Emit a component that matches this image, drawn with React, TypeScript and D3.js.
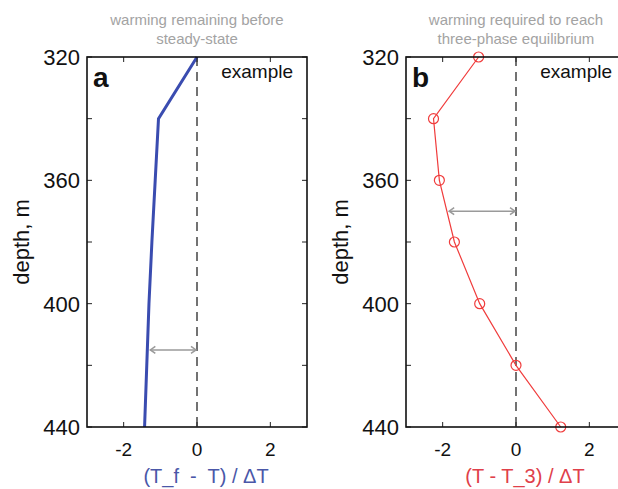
import React from "react";
import * as d3 from "d3";

const depths = [320, 340, 360, 380, 400, 420, 440];
const seriesA = [0, -1.05, -1.14, -1.23, -1.31, -1.37, -1.43];
const seriesB = [-1.02, -2.25, -2.09, -1.68, -0.99, 0, 1.22];
const xTicks = [-2, 0, 2];
const yTicks = [320, 340, 360, 380, 400, 420, 440];
const yLabels = [320, 360, 400, 440];
const titlesA = ["warming remaining before", "steady-state"];
const titlesB = ["warming required to reach", "three-phase equilibrium"];
const arrowA = { depth: 415, from: -1.3, to: 0 };
const arrowB = { depth: 370, from: -1.85, to: 0 };

const FONT = "'Liberation Sans', Arial, Helvetica, sans-serif";

type PanelProps = {
  left: number;
  letter: string;
  titles: string[];
  values: number[];
  color: string;
  markers: boolean;
  lineWidth: number;
  xLabel: string;
  xLabelColor: string;
  arrow: { depth: number; from: number; to: number };
};

function Panel(p: PanelProps) {
  const top = 57;
  const bottom = 427;
  const width = 220;
  const x = d3.scaleLinear().domain([-3, 3]).range([p.left, p.left + width]);
  const y = d3.scaleLinear().domain([320, 440]).range([top, bottom]);
  const pts: [number, number][] = depths.map((d, i) => [p.values[i], d]);
  const line = d3
    .line<[number, number]>()
    .x((d) => x(d[0]))
    .y((d) => y(d[1]));
  const tl = 5;
  const cx = p.left + width / 2;
  const ay = y(p.arrow.depth);
  const ax1 = x(p.arrow.from);
  const ax2 = x(p.arrow.to);
  const ah = 6;
  return (
    <g>
      {p.titles.map((t, i) => (
        <text
          key={i}
          x={cx}
          y={25 + i * 19}
          textAnchor="middle"
          fontFamily={FONT}
          fontSize={15}
          fill="#a3a3a3"
        >
          {t}
        </text>
      ))}
      <line
        x1={x(0)}
        x2={x(0)}
        y1={top}
        y2={bottom}
        stroke="#444"
        strokeWidth={1.5}
        strokeDasharray="9,6"
      />
      <g stroke="#9a9a9a" strokeWidth={1.5} fill="none">
        <line x1={ax1 + 1} x2={ax2 - 1} y1={ay} y2={ay} />
        <path d={`M${ax1 + ah},${ay - 3.5} L${ax1 + 1},${ay} L${ax1 + ah},${ay + 3.5}`} />
        <path d={`M${ax2 - ah},${ay - 3.5} L${ax2 - 1},${ay} L${ax2 - ah},${ay + 3.5}`} />
      </g>
      <path
        d={line(pts) || ""}
        fill="none"
        stroke={p.color}
        strokeWidth={p.lineWidth}
      />
      {p.markers &&
        pts.map((d, i) => (
          <circle
            key={i}
            cx={x(d[0])}
            cy={y(d[1])}
            r={5}
            fill="none"
            stroke={p.color}
            strokeWidth={1.2}
          />
        ))}
      <g stroke="#222" strokeWidth={1}>
        {xTicks.map((t) => (
          <g key={"x" + t}>
            <line x1={x(t)} x2={x(t)} y1={bottom} y2={bottom - tl} />
            <line x1={x(t)} x2={x(t)} y1={top} y2={top + tl} />
          </g>
        ))}
        {yTicks.map((t) => (
          <g key={"y" + t}>
            <line x1={p.left} x2={p.left + tl} y1={y(t)} y2={y(t)} />
            <line x1={p.left + width} x2={p.left + width - tl} y1={y(t)} y2={y(t)} />
          </g>
        ))}
      </g>
      <rect
        x={p.left}
        y={top}
        width={width}
        height={bottom - top}
        fill="none"
        stroke="#111"
        strokeWidth={1.6}
      />
      {xTicks.map((t) => (
        <text
          key={"xl" + t}
          x={x(t)}
          y={456}
          textAnchor="middle"
          fontFamily={FONT}
          fontSize={19}
          fill="#111"
        >
          {t < 0 ? "-" + Math.abs(t) : String(t)}
        </text>
      ))}
      {yLabels.map((t) => (
        <text
          key={"yl" + t}
          x={p.left - 7}
          y={y(t) + 8}
          textAnchor="end"
          fontFamily={FONT}
          fontSize={22}
          fill="#111"
        >
          {t}
        </text>
      ))}
      <text
        transform={`translate(${p.left - 58},${(top + bottom) / 2}) rotate(-90)`}
        textAnchor="middle"
        fontFamily={FONT}
        fontSize={22}
        fill="#111"
      >
        depth, m
      </text>
      <text
        x={cx + 9}
        y={483}
        textAnchor="middle"
        fontFamily={FONT}
        fontSize={20}
        fill={p.xLabelColor}
        style={{ whiteSpace: "pre" }}
      >
        {p.xLabel}
      </text>
      <text
        x={p.left + 6}
        y={87}
        fontFamily={FONT}
        fontSize={28}
        fontWeight="bold"
        fill="#111"
      >
        {p.letter}
      </text>
      <text
        x={p.left + width - 14}
        y={78}
        textAnchor="end"
        fontFamily={FONT}
        fontSize={19}
        fill="#111"
      >
        example
      </text>
    </g>
  );
}

export default function App() {
  return (
    <div style={{ position: "fixed", left: 0, top: 0, width: 618, height: 489, background: "#fff" }}>
      <svg width={618} height={489} style={{ display: "block" }}>
        <rect width={618} height={489} fill="#fff" />
        <Panel
          left={87}
          letter="a"
          titles={titlesA}
          values={seriesA}
          color="#3a4cb0"
          markers={false}
          lineWidth={3}
          xLabel="(T_f  -  T) / ΔT"
          xLabelColor="#4a57a8"
          arrow={arrowA}
        />
        <Panel
          left={406}
          letter="b"
          titles={titlesB}
          values={seriesB}
          color="#f03c3c"
          markers={true}
          lineWidth={1.2}
          xLabel="(T - T_3) / ΔT"
          xLabelColor="#e0404a"
          arrow={arrowB}
        />
      </svg>
    </div>
  );
}
